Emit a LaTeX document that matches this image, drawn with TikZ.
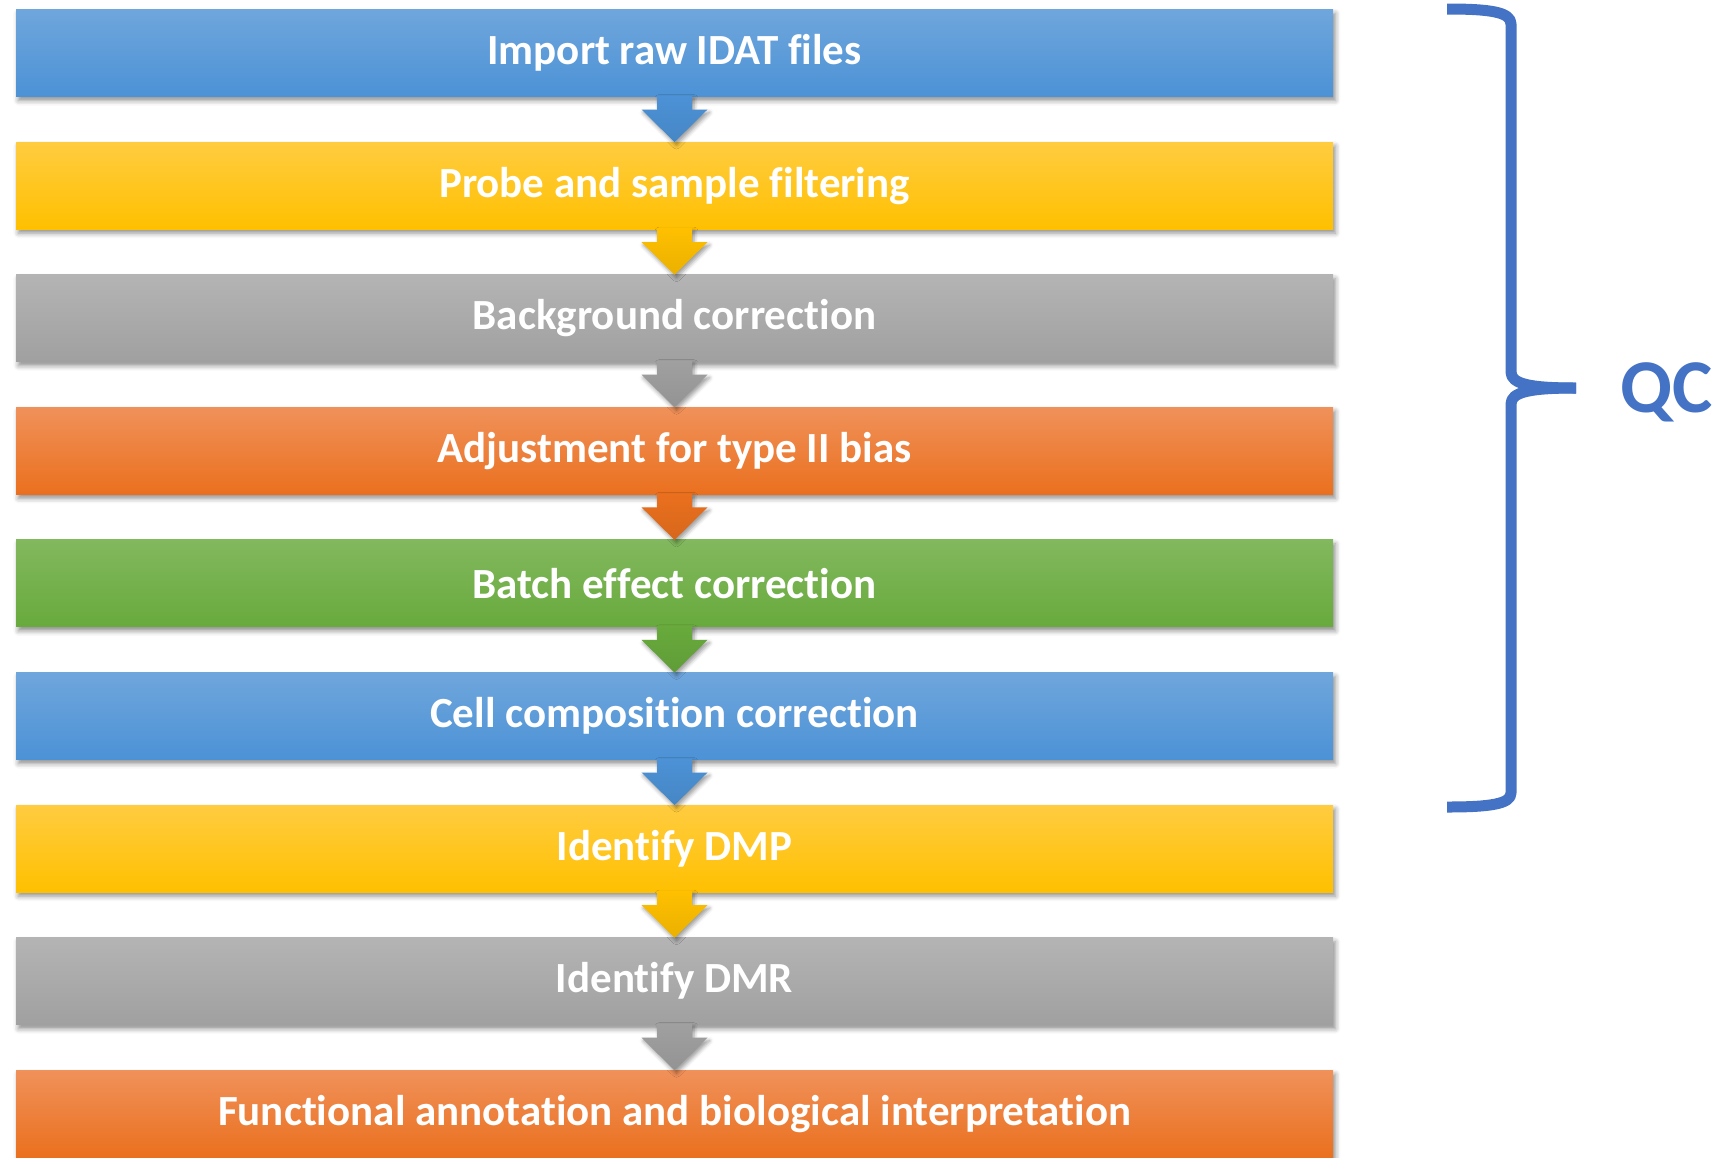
\documentclass[tikz,border=0pt]{standalone}
\usepackage{fontspec}
\setmainfont{Carlito}[RawFeature={-liga;-clig;-dlig;-calt;-rlig}]
\usetikzlibrary{positioning, calc, shadows.blur}
\definecolor{blueTop}{RGB}{111,166,220}
\definecolor{blueBot}{RGB}{76,146,214}
\definecolor{yellowTop}{RGB}{255,204,64}
\definecolor{yellowBot}{RGB}{255,192,0}
\definecolor{grayTop}{RGB}{180,180,180}
\definecolor{grayBot}{RGB}{160,160,160}
\definecolor{orangeTop}{RGB}{240,145,90}
\definecolor{orangeBot}{RGB}{234,112,30}
\definecolor{greenTop}{RGB}{130,184,94}
\definecolor{greenBot}{RGB}{104,170,60}
\definecolor{braceBlue}{RGB}{68,114,196}
\tikzset{
	stepbox/.style={rectangle, top color=#1Top, bottom color=#1Bot, draw=none,
		minimum width=658.5pt, minimum height=43.5pt, inner sep=0pt, outer sep=0pt,
		text=white, font=\fontsize{21.5}{26}\selectfont\bfseries,
		blur shadow={shadow xshift=1.2pt, shadow yshift=-2pt, shadow blur radius=2.5pt, shadow opacity=45}},
	steparr/.style={top color=#1Bot, bottom color=#1Bot!92!black,
		blur shadow={shadow xshift=1pt, shadow yshift=-1.5pt, shadow blur radius=2pt, shadow opacity=40}},
	bracepath/.style={draw=braceBlue, line width=5.5pt, line join=round}
}
% block arrow from the bottom of one step to the top of the next
\newcommand{\steparrow}[3]{%
	\path[steparr=#3] ($(#1.south)+(-8.75pt,0.5pt)$) -- ++(0,-7pt) -- ++(-7.75pt,0)
		-- (#2.north) -- ($(#1.south)+(16.5pt,-6.5pt)$) -- ++(-7.75pt,0)
		-- ($(#1.south)+(8.75pt,0.5pt)$) -- cycle;}

\begin{document}
\begin{tikzpicture}[x=0.5pt, y=-0.5pt, node distance=22.8pt]
	\useasboundingbox (0,0) rectangle (1716,1157);
	\node[stepbox=blue] (import) at (674.5,53) {Import raw IDAT files};
	\node[stepbox=yellow, below=of import] (filter) {Probe and sample filtering};
	\node[stepbox=gray, below=of filter] (bg) {Background correction};
	\node[stepbox=orange, below=of bg] (typeii) {Adjustment for type II bias};
	\node[stepbox=green, below=of typeii] (batch) {Batch effect correction};
	\node[stepbox=blue, below=of batch] (cell) {Cell composition correction};
	\node[stepbox=yellow, below=of cell] (dmp) {Identify DMP};
	\node[stepbox=gray, below=of dmp] (dmr) {Identify DMR};
	\node[stepbox=orange, below=of dmr] (annot) {Functional annotation and biological interpretation};

	\steparrow{import}{filter}{blue}
	\steparrow{filter}{bg}{yellow}
	\steparrow{bg}{typeii}{gray}
	\steparrow{typeii}{batch}{orange}
	\steparrow{batch}{cell}{green}
	\steparrow{cell}{dmp}{blue}
	\steparrow{dmp}{dmr}{yellow}
	\steparrow{dmr}{annot}{gray}

	% brace over the QC steps
	\draw[bracepath] (1447,9) .. controls (1490,9) and (1511,12) .. (1511,24) -- (1511,372)
		.. controls (1511,384) and (1530,388) .. (1576,388);
	\draw[bracepath] (1576,388) .. controls (1530,388) and (1511,392) .. (1511,404) -- (1511,793)
		.. controls (1511,804) and (1490,807) .. (1447,807);
	\node[anchor=base west, inner sep=0pt, text=braceBlue, font=\fontsize{38}{44}\selectfont\bfseries] (qc) at (1620,412) {QC};
\end{tikzpicture}
\end{document}
